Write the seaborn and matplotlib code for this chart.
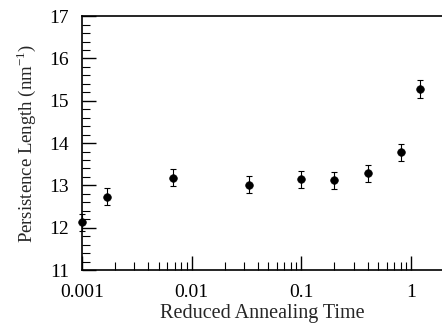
import matplotlib
matplotlib.use("Agg")
import matplotlib.pyplot as plt
import matplotlib.ticker as mticker
import seaborn as sns
import pandas as pd

# Data
annealing_time = [0.001, 0.00169, 0.0068, 0.0335, 0.1, 0.2, 0.4, 0.8, 1.2]
persistence_length = [12.13, 12.73, 13.18, 13.02, 13.15, 13.12, 13.29, 13.78, 15.27]
error = [0.2, 0.2, 0.2, 0.2, 0.2, 0.2, 0.2, 0.2, 0.21]
x_tick_labels = ["0.001", "0.01", "0.1", "1"]
y_ticks = [11, 12, 13, 14, 15, 16, 17]

sns.set_theme(style="ticks")
plt.rcParams["font.family"] = ["Liberation Serif", "DejaVu Serif"]
plt.rcParams["mathtext.fontset"] = "custom"
plt.rcParams["mathtext.rm"] = "Liberation Serif"

df = pd.DataFrame({"t": annealing_time, "L": persistence_length, "err": error})

fig = plt.figure(figsize=(4.42, 3.23), dpi=100)
ax = fig.add_axes([0.1855, 0.164, 0.8145, 0.786])

ax.errorbar(df["t"], df["L"], yerr=df["err"], fmt="none", ecolor="black",
            elinewidth=0.8, capsize=2.5, capthick=0.8, clip_on=False, zorder=2)
sns.scatterplot(data=df, x="t", y="L", ax=ax, color="black", s=30,
                edgecolor="black", linewidth=0.5, clip_on=False, zorder=3, legend=False)

ax.set_xscale("log")
ax.set_xlim(0.001, 1.91)
ax.set_ylim(11, 17)

ax.set_xticks([0.001, 0.01, 0.1, 1])
ax.set_xticklabels(x_tick_labels)
ax.xaxis.set_minor_locator(mticker.LogLocator(base=10, subs=range(2, 10), numticks=20))
ax.xaxis.set_minor_formatter(mticker.NullFormatter())
ax.set_yticks(y_ticks)
ax.yaxis.set_minor_locator(mticker.MultipleLocator(0.2))

ax.tick_params(which="major", direction="in", length=10, width=1.0, labelsize=14,
               colors="black")
ax.tick_params(axis="x", which="major", pad=10)
ax.tick_params(axis="y", which="major", pad=9.5)
ax.tick_params(which="minor", direction="in", length=6, width=0.8, colors="black")
ax.tick_params(axis="x", which="both", top=False)
ax.tick_params(axis="y", which="both", right=False)

for side in ["left", "bottom", "top"]:
    ax.spines[side].set_visible(True)
    ax.spines[side].set_color("black")
    ax.spines[side].set_linewidth(1.2)
ax.spines["right"].set_visible(False)

ax.set_xlabel("Reduced Annealing Time", fontsize=14.5, labelpad=2)
ax.set_ylabel("Persistence Length (nm$^{-1}$)", fontsize=13.5, labelpad=8)

fig.savefig("out.png", dpi=100)
